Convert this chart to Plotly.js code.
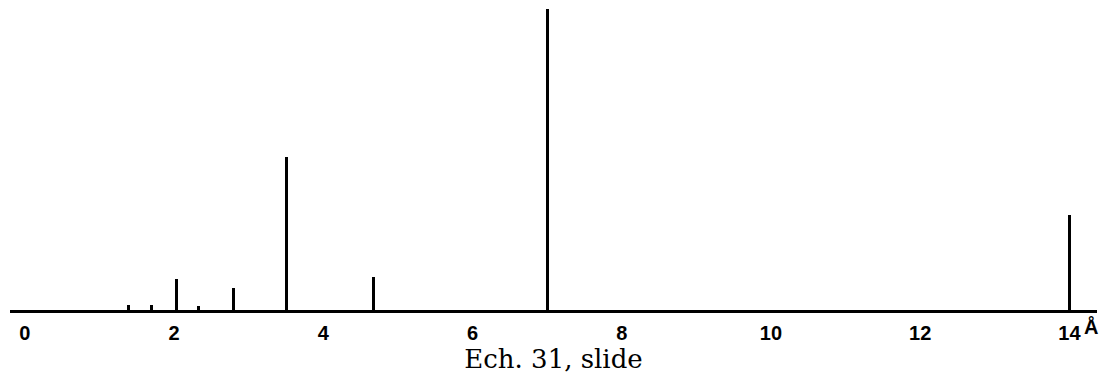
<!DOCTYPE html>
<html>
<head>
<meta charset="utf-8">
<script src="https://cdn.plot.ly/plotly-3.0.1.min.js"></script>
<style>html,body{margin:0;padding:0;background:#fff;}#chart{width:1107px;height:376px;}</style>
</head>
<body>
<div id="chart"></div>
<script>
// d-spacings (Å) and relative intensities
const spacings = [1.39, 1.70, 2.03, 2.32, 2.80, 3.50, 4.67, 7.00, 14.00];
const intensities = [1.7, 1.6, 10.3, 1.3, 7.3, 51, 11, 100, 31.6];
const tickValues = [0, 2, 4, 6, 8, 10, 12, 14];
const tickLabels = ['0', '2', '4', '6', '8', '10', '12', '14'];
const unitLabel = 'Å';
const chartTitle = 'Ech. 31, slide';

const trace = {
  type: 'bar',
  x: spacings,
  y: intensities,
  width: spacings.map(() => 0.04),
  marker: {color: '#000', line: {width: 0}},
  hoverinfo: 'x+y'
};

const layout = {
  width: 1107, height: 376,
  margin: {l: 10, r: 10, t: 0, b: 66},
  paper_bgcolor: '#fff', plot_bgcolor: '#fff',
  showlegend: false,
  bargap: 0,
  xaxis: {
    range: [-0.2, 14.37],
    tickvals: tickValues,
    ticktext: tickLabels,
    ticks: '',
    ticklabelstandoff: 3,
    showgrid: false, zeroline: false,
    showline: true, linecolor: '#000', linewidth: 3,
    tickfont: {family: 'Liberation Sans', size: 20, color: '#000', weight: 'bold'},
    title: {text: chartTitle, font: {family: 'DejaVu Serif', size: 26, color: '#000'}, standoff: 0}
  },
  yaxis: {
    range: [0, 103],
    visible: false,
    showgrid: false, zeroline: false
  },
  annotations: [{
    x: 14, y: 0, xref: 'x', yref: 'y',
    text: unitLabel, showarrow: false,
    xanchor: 'left', yanchor: 'top',
    xshift: 13, yshift: -3,
    font: {family: 'Liberation Sans', size: 20, color: '#000', weight: 'bold'}
  }]
};

Plotly.newPlot('chart', [trace], layout, {displayModeBar: false, staticPlot: true});
</script>
</body>
</html>
